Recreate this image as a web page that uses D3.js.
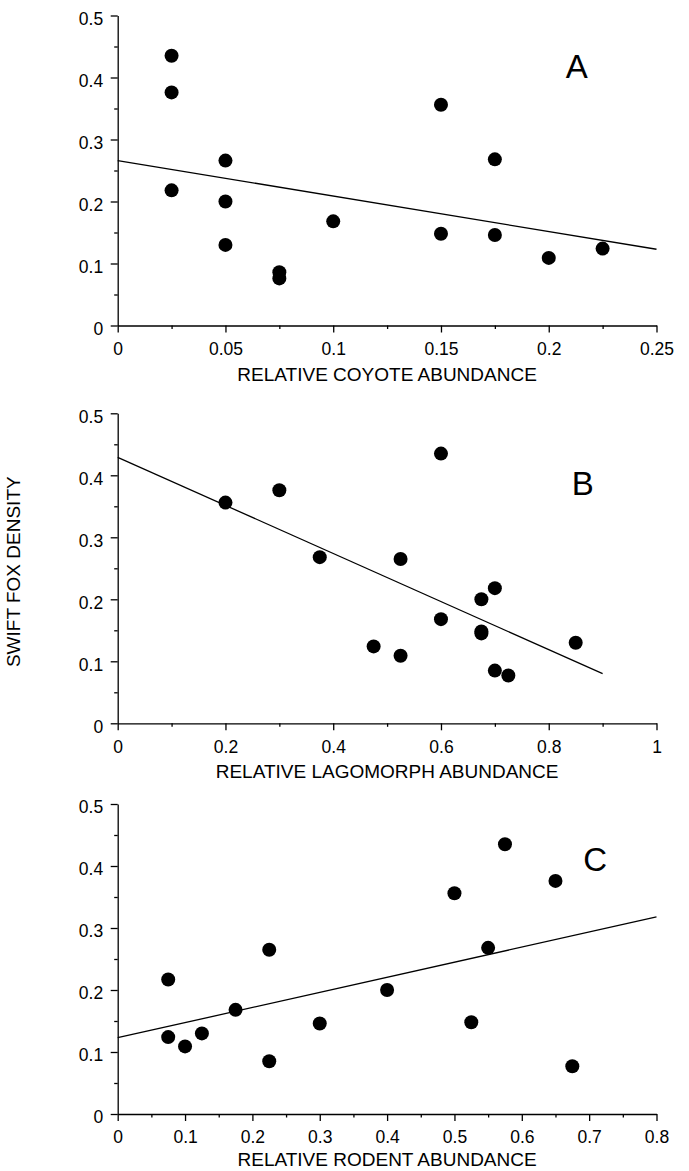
<!DOCTYPE html>
<html lang="en">
<head>
    <meta charset="UTF-8">
    <title>Swift fox density vs relative abundance</title>
    <script src="https://d3js.org/d3.v7.min.js"></script>
    <style>
        body { margin: 0; background: #fff; }
        svg { display: block; font-family: "Liberation Sans", Arial, sans-serif; }
        .tick text { font-size: 17.5px; fill: #000; }
        .domain, .tick line { stroke: #000; stroke-width: 1.3px; }
    </style>
</head>
<body>
    <div id="chart"></div>
    <script>
        // panel A - coyote
        var coyoteX = [0.025, 0.025, 0.025, 0.05, 0.05, 0.05, 0.075, 0.075, 0.1, 0.15, 0.15, 0.175, 0.175, 0.2, 0.225];
        var coyoteY = [0.435, 0.376, 0.218, 0.266, 0.200, 0.130, 0.086, 0.076, 0.168, 0.356, 0.148, 0.268, 0.146, 0.109, 0.124];
        var coyoteFit = [[0, 0.266], [0.25, 0.123]];
        var coyoteTicks = [0, 0.05, 0.1, 0.15, 0.2, 0.25];
        var coyoteMinor = [0.025, 0.075, 0.125, 0.175, 0.225];

        // panel B - lagomorph
        var lagoX = [0.6, 0.3, 0.2, 0.375, 0.525, 0.7, 0.675, 0.6, 0.675, 0.675, 0.475, 0.525, 0.85, 0.7, 0.725];
        var lagoY = [0.435, 0.376, 0.356, 0.268, 0.265, 0.218, 0.200, 0.168, 0.148, 0.145, 0.124, 0.109, 0.130, 0.085, 0.077];
        var lagoFit = [[0, 0.429], [0.9, 0.080]];
        var lagoTicks = [0, 0.2, 0.4, 0.6, 0.8, 1];
        var lagoMinor = [0.1, 0.3, 0.5, 0.7, 0.9];

        // panel C - rodent
        var rodentX = [0.575, 0.65, 0.5, 0.55, 0.225, 0.075, 0.4, 0.175, 0.3, 0.525, 0.075, 0.125, 0.1, 0.225, 0.675];
        var rodentY = [0.435, 0.376, 0.356, 0.268, 0.265, 0.217, 0.200, 0.168, 0.146, 0.148, 0.124, 0.130, 0.109, 0.085, 0.077];
        var rodentFit = [[0, 0.123], [0.8, 0.318]];
        var rodentTicks = [0, 0.1, 0.2, 0.3, 0.4, 0.5, 0.6, 0.7, 0.8];
        var rodentMinor = [0.05, 0.15, 0.25, 0.35, 0.45, 0.55, 0.65, 0.75];

        var densityTicks = [0, 0.1, 0.2, 0.3, 0.4, 0.5];
        var densityMinor = [0.05, 0.15, 0.25, 0.35, 0.45];

        var width = 689, height = 1171,
            left = 117.7, right = 656.5, panelH = 310;

        var svg = d3.select("#chart").append("svg")
            .attr("width", width)
            .attr("height", height);

        var panels = [
            {top: 15.5, xs: coyoteX, ys: coyoteY, fit: coyoteFit, max: 0.25, ticks: coyoteTicks, minor: coyoteMinor,
             title: "RELATIVE COYOTE ABUNDANCE", letter: "A", lx: 0.213, ly: 0.40, ty: 55},
            {top: 413.3, xs: lagoX, ys: lagoY, fit: lagoFit, max: 1, ticks: lagoTicks, minor: lagoMinor,
             title: "RELATIVE LAGOMORPH ABUNDANCE", letter: "B", lx: 0.863, ly: 0.369, ty: 55},
            {top: 804, xs: rodentX, ys: rodentY, fit: rodentFit, max: 0.8, ticks: rodentTicks, minor: rodentMinor,
             title: "RELATIVE RODENT ABUNDANCE", letter: "C", lx: 0.709, ly: 0.392, ty: 51.5}
        ];

        panels.forEach(function(p) {
            var x = d3.scaleLinear().domain([0, p.max]).range([left, right]);
            var y = d3.scaleLinear().domain([0, 0.5]).range([p.top + panelH, p.top]);
            var base = p.top + panelH;

            // minor ticks first, majors drawn over them
            svg.append("g").attr("transform", "translate(0," + base + ")")
                .call(d3.axisBottom(x).tickValues(p.minor).tickSize(3.5).tickFormat(""))
                .select(".domain").remove();
            svg.append("g").attr("transform", "translate(" + left + ",0)")
                .call(d3.axisLeft(y).tickValues(densityMinor).tickSize(3.5).tickFormat(""))
                .select(".domain").remove();

            svg.append("g").attr("transform", "translate(0," + base + ")")
                .call(d3.axisBottom(x).tickValues(p.ticks).tickSize(7).tickSizeOuter(0)
                    .tickPadding(10).tickFormat(d => String(d)));
            svg.append("g").attr("transform", "translate(" + left + ",0)")
                .call(d3.axisLeft(y).tickValues(densityTicks).tickSize(7).tickSizeOuter(0)
                    .tickPadding(7.5).tickFormat(d => String(d)))
                .selectAll("text").attr("dy", "0.5em");

            // fitted line
            svg.append("path")
                .datum(p.fit)
                .attr("fill", "none")
                .attr("stroke", "#000")
                .attr("stroke-width", 1.3)
                .attr("d", d3.line().x(d => x(d[0])).y(d => y(d[1])));

            svg.append("g").selectAll("circle")
                .data(p.xs.map((v, i) => [v, p.ys[i]]))
                .enter().append("circle")
                .attr("cx", d => x(d[0]))
                .attr("cy", d => y(d[1]))
                .attr("r", 7)
                .attr("fill", "#000");

            svg.append("text")
                .attr("x", x(p.lx))
                .attr("y", y(p.ly))
                .attr("text-anchor", "middle")
                .style("font-size", "33px")
                .text(p.letter);

            svg.append("text")
                .attr("x", (left + right) / 2)
                .attr("y", base + p.ty)
                .attr("text-anchor", "middle")
                .style("font-size", "19px")
                .text(p.title);
        });

        svg.append("text")
            .attr("transform", "translate(20,571.7)rotate(-90)")
            .attr("text-anchor", "middle")
            .style("font-size", "19px")
            .text("SWIFT FOX DENSITY");
    </script>
</body>
</html>
